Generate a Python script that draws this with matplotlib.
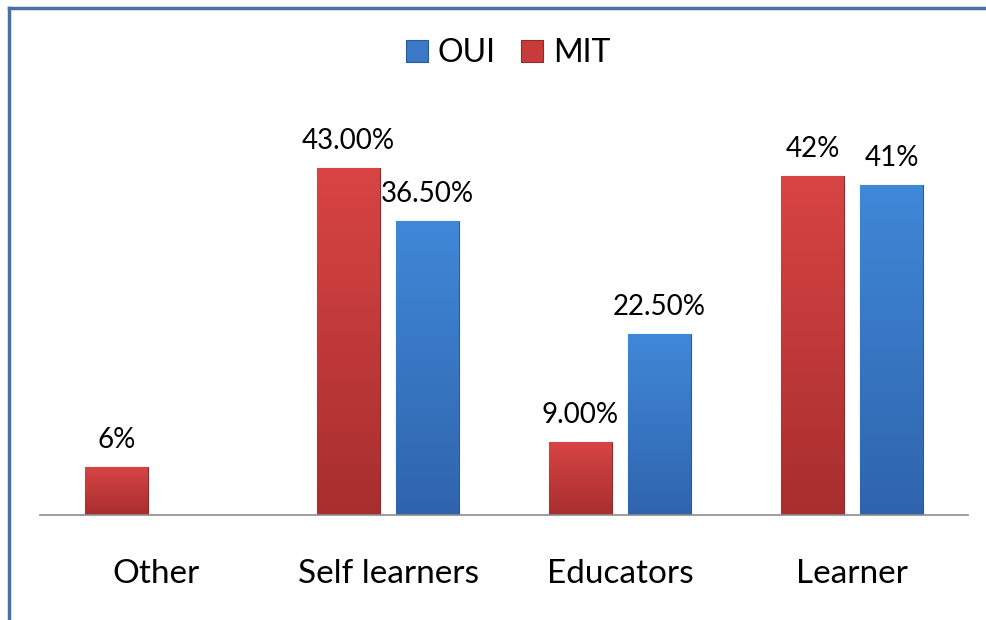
import numpy as np
from matplotlib import pyplot as plt
from matplotlib.lines import Line2D
from matplotlib.colors import LinearSegmentedColormap

plt.rcParams["font.family"] = ["Lato", "DejaVu Sans"]

categories = ["Other", "Self learners", "Educators", "Learner"]
mit_values = [6.0, 43.0, 9.0, 42.0]
oui_values = [np.nan, 36.5, 22.5, 41.0]
mit_labels = ["6%", "43.00%", "9.00%", "42%"]
oui_labels = ["", "36.50%", "22.50%", "41%"]

red = "#c93b3b"
blue = "#3b78c8"
red_cmap = LinearSegmentedColormap.from_list("r", ["#a82e2e", "#d84444"])
blue_cmap = LinearSegmentedColormap.from_list("b", ["#2f64ad", "#4088d8"])

fig = plt.figure(figsize=(9.86, 6.20), dpi=100)
W, H = 986, 620
ax = fig.add_axes([40 / W, 1 - 515 / H, 928 / W, (515 - 112) / H])

x = np.arange(len(categories))
width = 0.27
off = 0.17

b_oui = ax.bar(x + off, oui_values, width, color=blue, edgecolor="#2a5a9a", linewidth=0.8, label="OUI")
b_mit = ax.bar(x - off, mit_values, width, color=red, edgecolor="#8e2a2a", linewidth=0.8, label="MIT")

# vertical gradient inside each bar
grad = np.linspace(0, 1, 256).reshape(-1, 1)
for bars, cmap in [(b_oui, blue_cmap), (b_mit, red_cmap)]:
    for p in bars:
        h = p.get_height()
        if np.isnan(h):
            continue
        x0 = p.get_x()
        im = ax.imshow(grad, cmap=cmap, origin="lower", aspect="auto",
                       extent=[x0, x0 + p.get_width(), 0, h], zorder=p.get_zorder())
        im.set_clip_path(p)

for xi, v, lab in zip(x - off, mit_values, mit_labels):
    ax.annotate(lab, (xi, v), xytext=(0, 14), textcoords="offset pixels",
                ha="center", va="bottom", fontsize=20)
for xi, v, lab in zip(x + off, oui_values, oui_labels):
    if lab:
        ax.annotate(lab, (xi, v), xytext=(0, 14), textcoords="offset pixels",
                    ha="center", va="bottom", fontsize=20)

ax.set_xlim(-0.5, 3.5)
ax.set_ylim(0, 50)
ax.set_xticks(x)
ax.set_xticklabels(categories, fontsize=24)
ax.tick_params(axis="x", length=0, pad=32)
ax.set_yticks([])
for s in ["top", "right", "left"]:
    ax.spines[s].set_visible(False)
ax.spines["bottom"].set_color("#8c8c8c")
ax.spines["bottom"].set_linewidth(1.2)
ax.patch.set_alpha(0)

ax.legend(handles=[b_oui, b_mit], loc="center", bbox_to_anchor=(508 / W, 1 - 53 / H),
          bbox_transform=fig.transFigure, ncol=2, frameon=False, fontsize=23,
          handlelength=0.7, handleheight=0.7, handletextpad=0.3, columnspacing=0.8)

# chart border (top and left)
fig.add_artist(Line2D([9 / W, 1], [1 - 8 / H, 1 - 8 / H], color="#4a6fa5", linewidth=2.5))
fig.add_artist(Line2D([9 / W, 9 / W], [0, 1 - 8 / H], color="#4a6fa5", linewidth=2.5))

fig.savefig("out.png", dpi=100)
